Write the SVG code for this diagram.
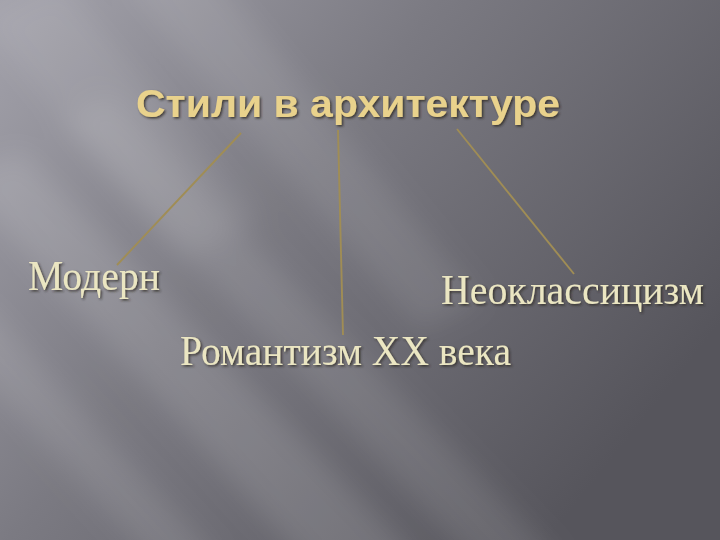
<svg xmlns="http://www.w3.org/2000/svg" width="720" height="540" viewBox="0 0 720 540">
<defs>
<linearGradient id="bg" x1="0" y1="0" x2="1" y2="0.6">
<stop offset="0" stop-color="#a3a2ab"/>
<stop offset="0.45" stop-color="#7b7a82"/>
<stop offset="1" stop-color="#56555c"/>
</linearGradient>
<filter id="blur" x="-20%" y="-20%" width="140%" height="140%"><feGaussianBlur stdDeviation="14"/></filter>
<filter id="sh" x="-5%" y="-20%" width="110%" height="150%"><feDropShadow dx="1.5" dy="1.5" stdDeviation="0.8" flood-color="#2a2520" flood-opacity="0.8"/></filter>
<style>
.title{font-family:"Liberation Sans",Arial,sans-serif;font-weight:bold;font-size:39px;fill:#e9d28c;}
.lbl{font-family:"Liberation Serif","Times New Roman",serif;font-size:42px;fill:#ebe6c2;}
.con{stroke:#a08d55;stroke-width:1.9;fill:none;}
</style>
</defs>
<rect width="720" height="540" fill="url(#bg)"/>
<g filter="url(#blur)" fill="#ffffff">
<polygon points="-40,180 20,150 420,560 340,600" opacity="0.12"/>
<polygon points="60,120 110,95 560,560 500,590" opacity="0.10"/>
<polygon points="120,-20 200,-40 480,300 420,330" opacity="0.09"/>
<polygon points="-60,330 -20,300 220,560 170,580" opacity="0.10"/>
<polygon points="-20,20 60,-20 260,220 180,260" opacity="0.08"/>
</g>
<g id="connectors">
<line class="con" x1="241" y1="133" x2="117" y2="265"/>
<line class="con" x1="338" y1="130" x2="343" y2="335"/>
<line class="con" x1="457" y1="129" x2="574" y2="274"/>
</g>
<g id="root"><text class="title" x="136" y="117" textLength="424" lengthAdjust="spacingAndGlyphs" filter="url(#sh)">Стили в архитектуре</text></g>
<g id="modern"><text class="lbl" x="28" y="290" textLength="132" lengthAdjust="spacingAndGlyphs" filter="url(#sh)">Модерн</text></g>
<g id="neoclassicism"><text class="lbl" x="441" y="304" textLength="263" lengthAdjust="spacingAndGlyphs" filter="url(#sh)">Неоклассицизм</text></g>
<g id="romanticism"><text class="lbl" x="180" y="365" textLength="331" lengthAdjust="spacingAndGlyphs" filter="url(#sh)">Романтизм XX века</text></g>
</svg>
